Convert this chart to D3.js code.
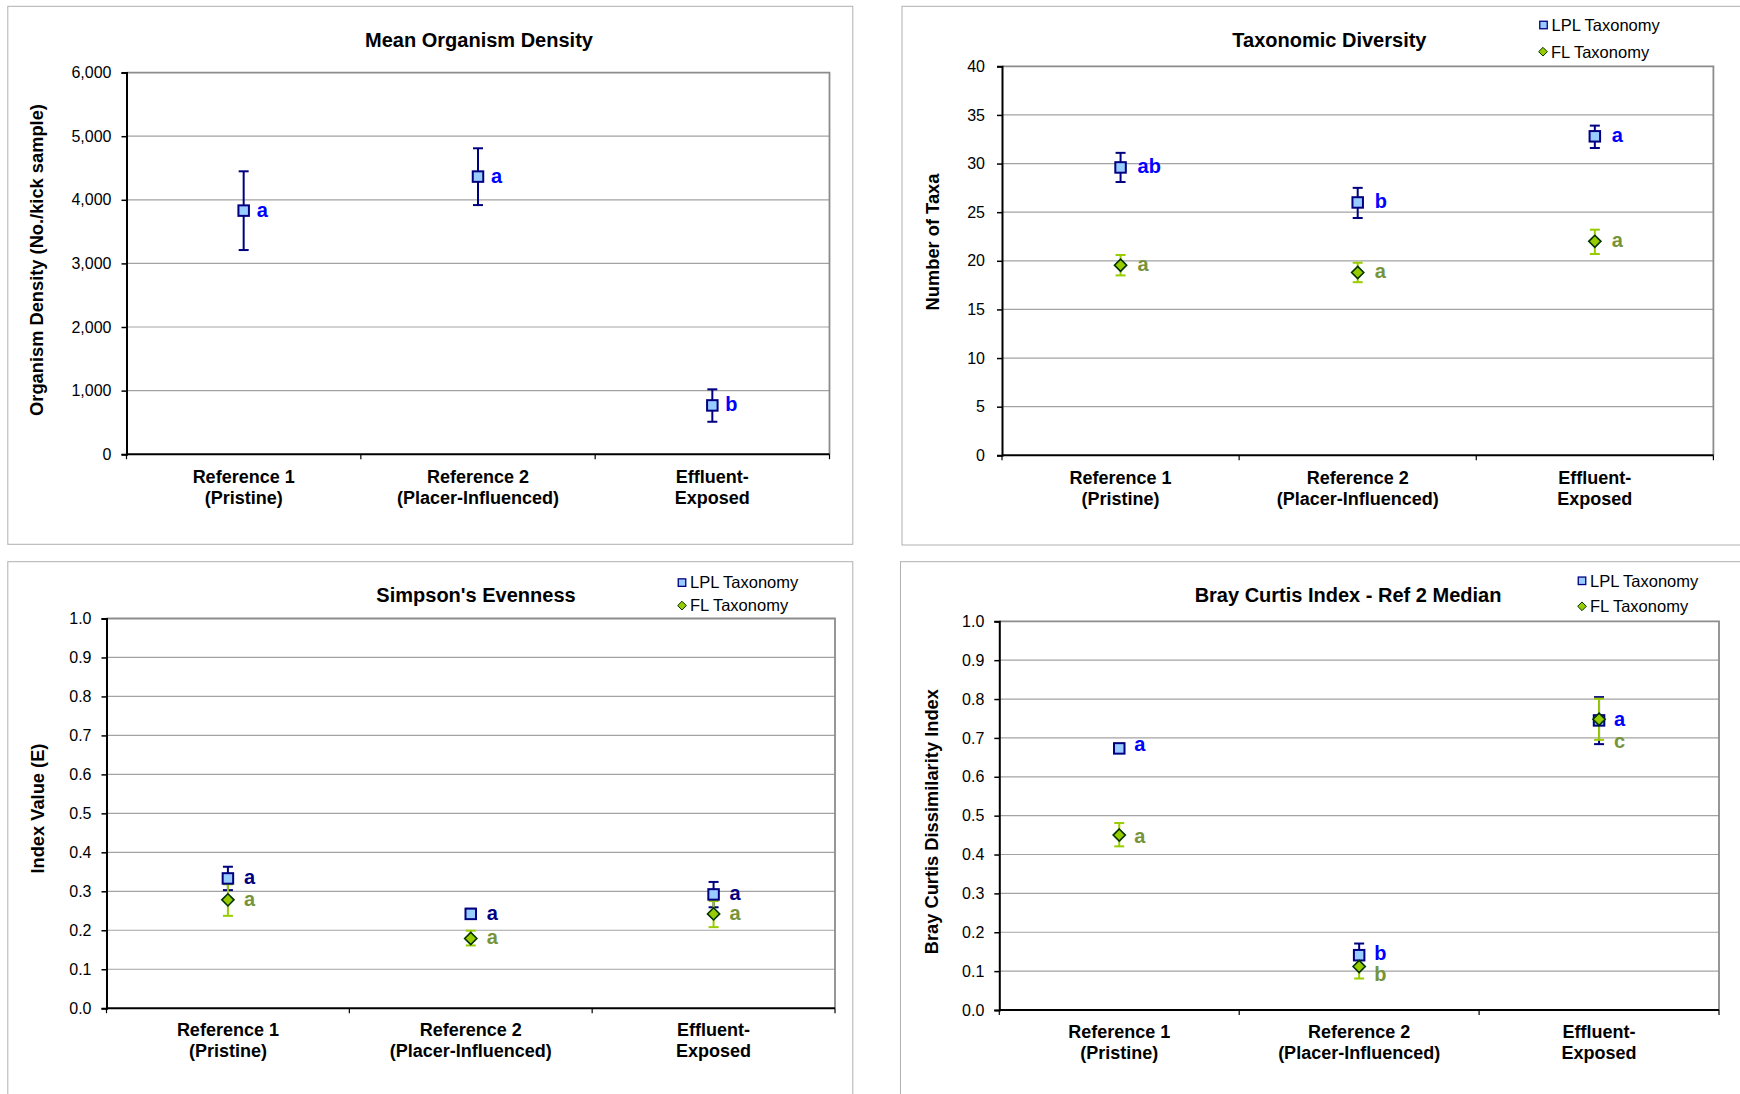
<!DOCTYPE html>
<html>
<head>
<meta charset="utf-8">
<script src="https://cdn.jsdelivr.net/npm/d3@7"></script>
<style>
  html, body { margin: 0; padding: 0; background: #fff; }
  svg { display: block; font-family: "Liberation Sans", Arial, sans-serif; }
</style>
</head>
<body>
<svg id="chart" width="1740" height="1094"></svg>
<script>
// ---------------- DATA ----------------
const categories = ["Reference 1\n(Pristine)", "Reference 2\n(Placer-Influenced)", "Effluent-\nExposed"];
const seriesNames = ["LPL Taxonomy", "FL Taxonomy"];

// Mean Organism Density
const densityMean = [3830, 4365, 767];
const densityLow = [3210, 3917, 510];
const densityHigh = [4448, 4810, 1020];
const densityLetters = ["a", "a", "b"];
const densityTicks = [0, 1000, 2000, 3000, 4000, 5000, 6000];

// Taxonomic Diversity
const taxaLplMean = [29.6, 26.0, 32.8];
const taxaLplLow = [28.1, 24.4, 31.6];
const taxaLplHigh = [31.1, 27.5, 33.9];
const taxaLplLetters = ["ab", "b", "a"];
const taxaFlMean = [19.55, 18.8, 22.0];
const taxaFlLow = [18.5, 17.8, 20.7];
const taxaFlHigh = [20.6, 19.8, 23.2];
const taxaFlLetters = ["a", "a", "a"];
const taxaTicks = [0, 5, 10, 15, 20, 25, 30, 35, 40];

// Simpson's Evenness
const evenLplMean = [0.333, 0.242, 0.292];
const evenLplLow = [0.303, 0.230, 0.259];
const evenLplHigh = [0.363, 0.255, 0.324];
const evenLplLetters = ["a", "a", "a"];
const evenFlMean = [0.278, 0.179, 0.242];
const evenFlLow = [0.237, 0.161, 0.208];
const evenFlHigh = [0.318, 0.199, 0.275];
const evenFlLetters = ["a", "a", "a"];
const indexTicks = [0, 0.1, 0.2, 0.3, 0.4, 0.5, 0.6, 0.7, 0.8, 0.9, 1.0];

// Bray Curtis Index - Ref 2 Median
const brayLplMean = [0.673, 0.141, 0.745];
const brayLplLow = [0.666, 0.112, 0.684];
const brayLplHigh = [0.680, 0.171, 0.805];
const brayLplLetters = ["a", "b", "a"];
const brayLplLetterAt = [0.682, 0.143, 0.745];
const brayFlMean = [0.450, 0.112, 0.748];
const brayFlLow = [0.421, 0.081, 0.695];
const brayFlHigh = [0.481, 0.143, 0.801];
const brayFlLetters = ["a", "b", "c"];
const brayFlLetterAt = [0.446, 0.089, 0.690];

// ---------------- STYLE ----------------
const C = {
  lplFill: "#99CCFF", lplStroke: "#000080", lplErr: "#000080",
  flFill: "#99CC00", flStroke: "#003300", flErr: "#99CC00",
  blue: "#0000FF", navy: "#000080", olive: "#77933C",
  grid: "#a3a3a3", frameGray: "#8c8c8c", border: "#b0b0b0"
};

const panels = [
  {
    title: "Mean Organism Density", ylabel: "Organism Density (No./kick sample)",
    box: [7.8, 6.3, 845, 538], plot: { l: 126.5, r: 829.5, t: 72.6, b: 454.2 },
    titlePos: [479, 40], ylabPos: [36, 260], catY: [477, 498],
    domain: [0, 6000], ticks: densityTicks, fmt: d3.format(","), tickGap: 15,
    series: [{ type: "square", mean: densityMean, low: densityLow, high: densityHigh, letters: densityLetters, letterAt: densityMean, letterColor: C.blue, dx: 13 }],
    legend: null
  },
  {
    title: "Taxonomic Diversity", ylabel: "Number of Taxa",
    box: [902, 6.3, 900, 538.7], plot: { l: 1002, r: 1713.4, t: 66.3, b: 455.3 },
    titlePos: [1329.4, 40], ylabPos: [932.7, 242], catY: [478, 499],
    domain: [0, 40], ticks: taxaTicks, fmt: d3.format("d"), tickGap: 17,
    series: [
      { type: "square", mean: taxaLplMean, low: taxaLplLow, high: taxaLplHigh, letters: taxaLplLetters, letterAt: taxaLplMean, letterColor: C.blue, dx: 17 },
      { type: "diamond", mean: taxaFlMean, low: taxaFlLow, high: taxaFlHigh, letters: taxaFlLetters, letterAt: taxaFlMean, letterColor: C.olive, dx: 17 }
    ],
    legend: [[1543.5, 25], [1543, 51.7]]
  },
  {
    title: "Simpson's Evenness", ylabel: "Index Value (E)",
    box: [7.8, 561.7, 845, 600], plot: { l: 106.5, r: 835, t: 618.5, b: 1008.2 },
    titlePos: [476, 595], ylabPos: [37.7, 808.6], catY: [1030, 1051],
    domain: [0, 1], ticks: indexTicks, fmt: d3.format(".1f"), tickGap: 15,
    series: [
      { type: "square", mean: evenLplMean, low: evenLplLow, high: evenLplHigh, letters: evenLplLetters, letterAt: evenLplMean, letterColor: C.navy, dx: 16 },
      { type: "diamond", mean: evenFlMean, low: evenFlLow, high: evenFlHigh, letters: evenFlLetters, letterAt: evenFlMean, letterColor: C.olive, dx: 16 }
    ],
    legend: [[682, 582.6], [682, 605.6]]
  },
  {
    title: "Bray Curtis Index - Ref 2 Median", ylabel: "Bray Curtis Dissimilarity Index",
    box: [900.5, 561.7, 900, 600], plot: { l: 999.3, r: 1719, t: 621.3, b: 1010 },
    titlePos: [1348, 595], ylabPos: [931, 821.7], catY: [1032, 1053],
    domain: [0, 1], ticks: indexTicks, fmt: d3.format(".1f"), tickGap: 15,
    series: [
      { type: "square", mean: brayLplMean, low: brayLplLow, high: brayLplHigh, letters: brayLplLetters, letterAt: brayLplLetterAt, letterColor: C.blue, dx: 15 },
      { type: "diamond", mean: brayFlMean, low: brayFlLow, high: brayFlHigh, letters: brayFlLetters, letterAt: brayFlLetterAt, letterColor: C.olive, dx: 15 }
    ],
    legend: [[1582, 580.8], [1582, 606.3]]
  }
];

const svg = d3.select("#chart");

function marker(g, type, x, y, size) {
  if (type === "square") {
    g.append("rect").attr("x", x - size / 2).attr("y", y - size / 2)
      .attr("width", size).attr("height", size)
      .attr("fill", C.lplFill).attr("stroke", C.lplStroke).attr("stroke-width", size > 8 ? 2 : 1.3);
  } else {
    const h = size * 0.58;
    g.append("path").attr("d", `M${x},${y - h}L${x + h},${y}L${x},${y + h}L${x - h},${y}Z`)
      .attr("fill", C.flFill).attr("stroke", C.flStroke).attr("stroke-width", size > 8 ? 1.6 : 1);
  }
}

panels.forEach(p => {
  const g = svg.append("g");
  // panel border
  g.append("rect").attr("x", p.box[0]).attr("y", p.box[1]).attr("width", p.box[2]).attr("height", p.box[3])
    .attr("fill", "#fff").attr("stroke", C.border).attr("stroke-width", 1);

  const x = d3.scaleBand().domain(categories).range([p.plot.l, p.plot.r]).padding(0);
  const y = d3.scaleLinear().domain(p.domain).range([p.plot.b, p.plot.t]);

  // gridlines
  g.append("g").selectAll("line").data(p.ticks.slice(1, -1)).join("line")
    .attr("x1", p.plot.l).attr("x2", p.plot.r)
    .attr("y1", d => y(d)).attr("y2", d => y(d))
    .attr("stroke", C.grid).attr("stroke-width", 1.2);

  // top & right frame (gray)
  g.append("path").attr("d", `M${p.plot.l},${p.plot.t}H${p.plot.r}V${p.plot.b}`)
    .attr("fill", "none").attr("stroke", C.frameGray).attr("stroke-width", 1.8);

  // y axis
  const yAxis = d3.axisLeft(y).tickValues(p.ticks).tickFormat(p.fmt).tickSize(5).tickPadding(p.tickGap - 5);
  const ya = g.append("g").attr("transform", `translate(${p.plot.l},0)`).call(yAxis);
  ya.select(".domain").attr("stroke", "#000").attr("stroke-width", 2);
  ya.selectAll(".tick line").attr("stroke", "#000").attr("stroke-width", 1.5);
  ya.selectAll(".tick text").attr("font-size", 16).attr("fill", "#000")
    .attr("font-family", "'Liberation Sans', Arial, sans-serif");

  // x axis
  const xa = g.append("g").attr("transform", `translate(0,${p.plot.b})`);
  xa.append("line").attr("x1", p.plot.l).attr("x2", p.plot.r).attr("stroke", "#000").attr("stroke-width", 2);
  const bounds = categories.map(c => x(c)).concat([p.plot.r]);
  xa.selectAll("line.tk").data(bounds).join("line").attr("class", "tk")
    .attr("x1", d => d).attr("x2", d => d).attr("y1", 0).attr("y2", 5)
    .attr("stroke", "#000").attr("stroke-width", 1.2);

  // category labels
  categories.forEach(c => {
    const cx = x(c) + x.bandwidth() / 2;
    c.split("\n").forEach((line, i) => {
      g.append("text").attr("x", cx).attr("y", p.catY[i] + 6.4)
        .attr("text-anchor", "middle").attr("font-size", 18).attr("font-weight", "bold")
        .attr("fill", "#000").text(line);
    });
  });

  // title
  g.append("text").attr("x", p.titlePos[0]).attr("y", p.titlePos[1] + 7)
    .attr("text-anchor", "middle").attr("font-size", 20).attr("font-weight", "bold").text(p.title);

  // y label
  g.append("text").attr("transform", `translate(${p.ylabPos[0] + 6.5},${p.ylabPos[1]}) rotate(-90)`)
    .attr("text-anchor", "middle").attr("font-size", 18.3).attr("font-weight", "bold").text(p.ylabel);

  // error bars
  const capW = 10;
  p.series.forEach(s => {
    const col = s.type === "square" ? C.lplErr : C.flErr;
    categories.forEach((c, i) => {
      const cx = x(c) + x.bandwidth() / 2;
      g.append("line").attr("x1", cx).attr("x2", cx).attr("y1", y(s.low[i])).attr("y2", y(s.high[i]))
        .attr("stroke", col).attr("stroke-width", 2);
      [s.low[i], s.high[i]].forEach(v => {
        g.append("line").attr("x1", cx - capW / 2).attr("x2", cx + capW / 2).attr("y1", y(v)).attr("y2", y(v))
          .attr("stroke", col).attr("stroke-width", 2);
      });
    });
  });
  // markers
  p.series.forEach(s => {
    categories.forEach((c, i) => {
      const cx = x(c) + x.bandwidth() / 2;
      marker(g, s.type, cx, y(s.mean[i]), 10.5);
    });
  });
  // letters
  p.series.forEach(s => {
    categories.forEach((c, i) => {
      const cx = x(c) + x.bandwidth() / 2;
      g.append("text").attr("x", cx + s.dx).attr("y", y(s.letterAt[i]) + 6)
        .attr("font-size", 20).attr("font-weight", "bold").attr("fill", s.letterColor).text(s.letters[i]);
    });
  });

  // legend
  if (p.legend) {
    p.legend.forEach((pos, i) => {
      marker(g, i === 0 ? "square" : "diamond", pos[0], pos[1], 7.5);
      g.append("text").attr("x", pos[0] + 8).attr("y", pos[1] + 5.8)
        .attr("font-size", 16.5).attr("fill", "#000").text(seriesNames[i]);
    });
  }
});
</script>
</body>
</html>
